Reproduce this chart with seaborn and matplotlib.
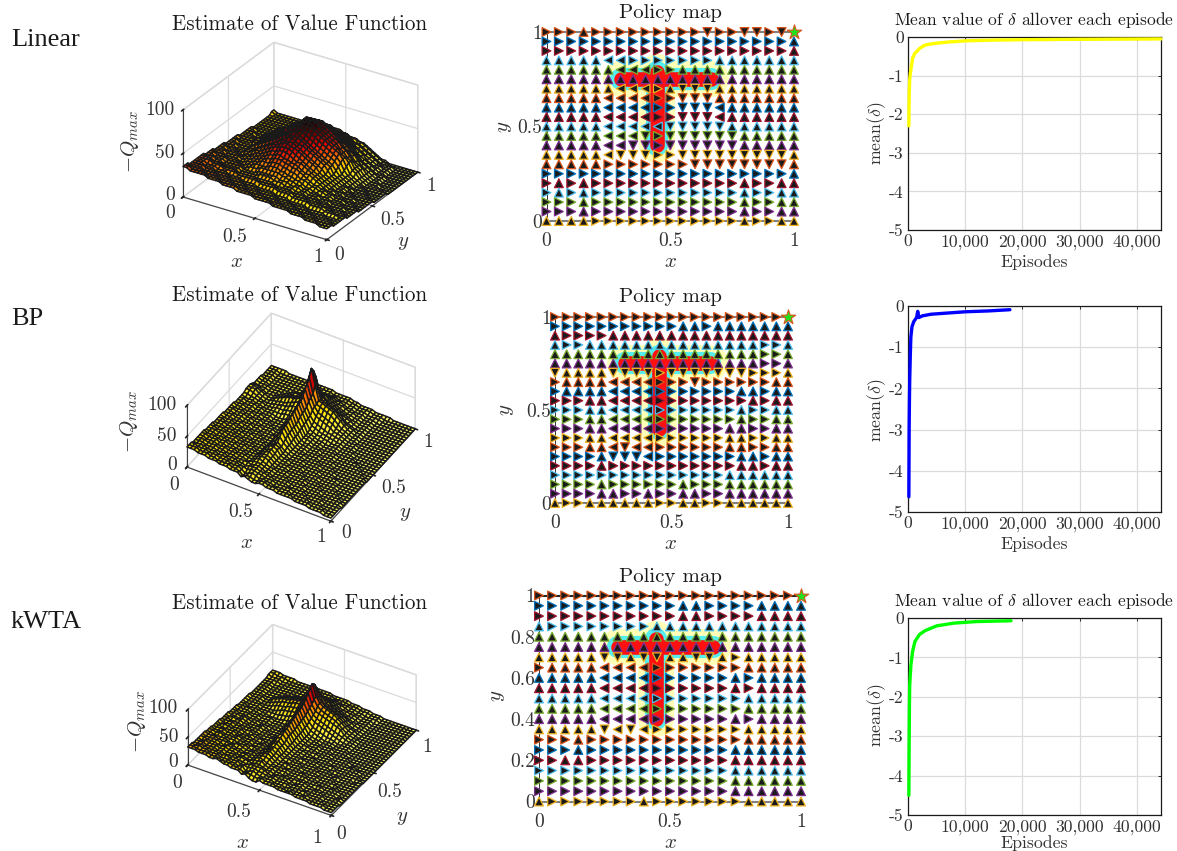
import numpy as np
import pandas as pd
import matplotlib
matplotlib.use("Agg")
from matplotlib import pyplot as plt
from matplotlib.colors import LinearSegmentedColormap
from mpl_toolkits.mplot3d import proj3d
import seaborn as sns

W, H = 1177, 851

# heights of the value surfaces, one base-36 digit per cell (unit 2.5), rows run from y=0 to y=1
linear_heights = [
    "eeddd ddccc cbbbb aaaaa 99999 88888 77776 66655 5",
    "eeddd dcccc bbbbb aaaa9 99998 88887 77766 66555 5",
    "edddd ccccb bbbaa aa999 99888 88777 77666 65555 5",
    "ddddc cccbb bbaaa a9999 88888 77777 66666 55555 4",
    "ddddc ccbbb baaaa 99998 88887 77776 66655 55554 4",
    "dddcc cbbbb aaaa9 99988 88877 77666 66555 55444 4",
    "dddcc cbbba aaa99 99888 88777 76666 65555 54444 4",
    "ddddc ccbbb baaaa aa999 99888 87777 76666 55554 4",
    "dddcc cbbbb aaaaa a9999 98888 87777 66666 55444 4",
    "dccbb baaaa 99999 99999 88888 77776 66655 54444 3",
    "cccbb aaaaa 99999 aaaa9 99888 77766 66555 44443 3",
    "ccbbb aaaaa 9999a aaaaa 99988 87766 65554 44433 3",
    "ccbbb aaaa9 9aaab bbbbb aa998 87766 65554 44433 3",
    "cbbba aaa99 aabbb bcccb baa99 87766 55544 44333 3",
    "bbbaa aa99a abbcc cdddc cbba9 98776 65544 43333 2",
    "bbbaa aa9aa bbccd deeed dccba 98776 65544 43332 2",
    "bbaaa a9aab bccde effee ddcba a9876 55444 33322 2",
    "bbaaa 99aab ccdef fgggf eddcb a9876 55443 33222 2",
    "baaa9 9aabc cdefg ghhhg fedcb a9876 54443 33222 2",
    "aaa99 9aabc defgg hiihh gfedc b9876 54433 32222 2",
    "aaa99 9aabc defgh iiiih gfedc ba876 54433 22222 2",
    "aa999 9abcd efghh ijjih hgfed cb976 54432 22221 1",
    "aa999 9abcd efghi jjjji hgfed cba76 54332 22211 1",
    "a9999 aabcd efghi jkkji hgfed cba86 54322 22111 1",
    "a9999 aabcd efghi jkkkj ihgfe dcb96 54322 21111 1",
    "99999 aabcd efghj kklkk jihgf edca7 54322 11111 1",
    "99998 9abcd efhij kllll kjihg fedb8 54321 11111 1",
    "99988 9abcd efhij klmml kjihg fecb9 65321 11110 0",
    "99988 9abcd efhij kmmmm ljihg fdca9 65321 11000 0",
    "99888 9abcd efhij kmmml kjihg fdca8 65321 11000 0",
    "99888 89abc defhi jllll kjihf ecb97 65321 10000 0",
    "88888 89abc defgh ikkkk jihge dca97 54321 10000 0",
    "88888 89aab cdefg hijji hgfed cb986 54321 10000 0",
    "88888 899aa bcdef ghiih gfedc ba875 43211 10000 0",
    "88888 8899a abcde fgggg fedcb a9765 43211 00000 0",
    "88888 88899 aabcd eeeff edcba 98764 32211 00000 0",
    "88888 88889 9aabc cdddd cbba9 87654 32211 00000 0",
    "88888 88888 899aa bbccb baa98 87654 32111 00000 0",
    "88888 88888 8899a aabba a9987 76543 21111 00000 0",
    "98888 88888 88889 999aa 99887 76543 21100 00000 0",
    "98888 88888 88888 88888 87776 65432 11000 00000 0",
]
bp_heights = [
    "dddcc cbbba aa999 78766 77666 55555 44443 33322 2",
    "dddcc cbbaa aa998 67766 77666 55554 44443 33322 2",
    "ddccc bbbaa a9998 67876 76655 55544 44433 33222 2",
    "ccccb bbaaa 99988 78877 66655 55544 44333 32222 2",
    "cccbb baaa9 99887 88877 66555 54444 43333 32222 2",
    "cccbb baa99 98888 78876 65555 54444 33333 22222 1",
    "ccbbb aaa99 98877 88876 65555 44444 33332 22222 1",
    "ccbbb aa999 88877 89876 65554 44443 33332 22221 1",
    "cbbba aa998 88777 89986 55554 44443 33322 22211 1",
    "bbbaa a9998 87777 89986 55544 44433 33222 22111 1",
    "bbbaa 99988 87776 89a86 55544 44333 32222 21111 1",
    "bbaaa 99988 77766 89a86 55444 43333 32222 21111 1",
    "baaa9 99887 77666 8aa96 55444 43333 22222 11111 1",
    "aaa99 98877 76666 78a96 54444 33333 22222 11111 1",
    "aaa99 88877 66665 78a86 54444 33332 22211 11111 1",
    "aa999 88777 66655 79c97 54443 33332 22211 11111 1",
    "a9998 87776 66555 8bea7 54443 33322 22111 11111 1",
    "a9988 87766 65555 8cfb7 54433 33222 21111 11111 0",
    "99988 77766 55555 8cfb8 54433 33222 21111 11110 0",
    "99888 77666 55544 9dgc8 54433 32222 11111 11100 0",
    "99888 77665 55544 9dhc8 54433 32222 11111 11000 0",
    "98887 76665 55444 9eic9 55433 22222 11111 10000 0",
    "98877 76655 54444 aeid9 55433 22221 11110 00000 0",
    "88877 66655 44444 afjea 55433 22221 11100 00000 0",
    "88777 66555 44444 agkfa 65443 32221 11100 00000 0",
    "88777 66555 44455 agkfb 76544 33221 11000 00000 0",
    "87776 65555 55666 bhmgb 87654 43321 11000 00000 0",
    "88776 65556 66778 cjpid a9876 44321 11000 00000 0",
    "99876 55566 77899 dlrje ba987 54321 10000 00000 0",
    "99976 55667 789ab dmuke dcba8 64321 10000 00000 0",
    "99876 55678 9aabc fpyof edcb9 75321 10000 00000 0",
    "88765 55667 899ab dmvle dcba8 64321 10000 00000 0",
    "76665 55566 7789a biqib ba987 43211 10000 00000 0",
    "76665 55556 66778 aeidb 98765 43211 10000 00000 0",
    "76655 55555 66667 9beb9 87654 32211 10000 00000 0",
    "76655 55555 55566 8a9a8 76543 32211 10000 00000 0",
    "66655 55555 55555 78887 65543 32211 10000 00000 0",
    "66655 55555 55555 66666 55433 22211 10000 00000 0",
    "66655 55555 55555 55555 44433 22211 11000 00000 0",
    "66655 55555 55555 55544 44433 22221 11000 00000 0",
    "66666 55555 55555 55544 44433 22221 11110 00000 0",
]
kwta_heights = [
    "dddcc cbbcb aa999 78655 76666 55555 44443 33322 2",
    "ddccc cbbba aa998 77766 76665 55454 44433 33322 2",
    "dcdcc bbbaa a9989 67876 66655 54544 43433 33222 2",
    "ccccb bbaab 99988 78877 66655 55444 44333 32222 2",
    "cccbb baa99 99887 88887 65655 54444 33333 32222 1",
    "cbcbb baa99 98988 78876 65555 54344 33333 22222 1",
    "ccbbb aaa99 88877 88976 65545 44444 33232 22212 1",
    "cbbbb a9a99 88877 89876 65554 44343 33332 22211 1",
    "cbbba aa998 87777 89986 55554 44443 33222 22211 1",
    "bbaaa a9899 87777 89a86 55444 44433 32222 12111 1",
    "bbaba 99988 87676 79a86 55544 43333 32222 21111 1",
    "baaa9 99988 77766 89a87 54444 43333 22222 11111 1",
    "aaaa9 98987 76666 79a96 55444 33333 22221 11111 1",
    "aa999 98877 76666 7ab96 54443 33332 22212 11111 1",
    "a9a99 88777 66565 7ab96 54444 33322 22111 11101 1",
    "a9998 88767 66655 8bc97 54433 33322 21211 11111 0",
    "99998 87776 65555 8cda7 54433 33222 22111 11110 0",
    "99888 77766 55555 8ceb7 54433 22222 11111 11100 0",
    "98988 77666 55545 8ceb7 54333 32222 11111 11100 0",
    "98878 76666 55444 9dfb8 54433 22221 11110 10000 0",
    "88878 76656 54444 9dgb8 54333 22221 11110 00000 0",
    "88777 66655 54444 9dgc8 54333 22211 11100 00000 0",
    "87777 66555 44445 9ehc8 54332 22211 11000 00000 0",
    "87776 66555 44444 aeid9 54332 22111 11000 00000 0",
    "77776 65555 44445 afid9 65432 22111 10000 00000 0",
    "77666 65544 44556 agjea 76543 32111 10000 00000 0",
    "76666 55555 56678 bhkfb 98765 43211 10000 00000 0",
    "76666 55556 78899 cimgc a9876 54321 10000 00000 0",
    "76665 55678 89aab djohd cba98 76321 10000 00000 0",
    "76665 56789 aabcc dlrjf dcba9 75321 10000 00000 0",
    "66665 5789a abccd enskg edcb9 75321 00000 00000 0",
    "66655 56789 aabbc dlqif dcba8 64321 00000 00000 0",
    "66655 55678 899ab bhmhc ba987 53211 00000 00000 0",
    "66655 55567 78899 aeifb a9876 43211 00000 00000 0",
    "66655 55555 66778 9bebb 87654 32211 00000 00000 0",
    "66655 55555 55666 8a9a8 76543 32111 00000 00000 0",
    "66655 55555 55555 78887 65443 32111 00000 00000 0",
    "66665 55555 55555 66666 55433 22111 00000 00000 0",
    "76665 55555 55555 55555 44433 22111 10000 00000 0",
    "77666 55555 55555 55544 44333 22211 10000 00000 0",
    "77766 66555 55555 55444 44333 22211 10000 00000 0",
]

# greedy action per grid cell, rows run from y=1 to y=0, S is the goal
linear_policy = [
    "RRRURRRRRRRRRDRRDDRDS",
    "RRRRRRRRRRRRRRRRRRRRU",
    "RRRRRRRRRRRRRRRRRRRRU",
    "UUUUULLRRRRRRRUUUUUUU",
    "UUUUUULLLRRUUUUUUUUUU",
    "UUUUUUUUUUUUUUUUUUUUU",
    "UUUUUULLLRUDDDUUUUUUU",
    "UUUUULLLLRRDDDUUUUUUU",
    "UUUUULLLLRRDDDLUUUUUU",
    "UUUUULLLLRRDDDLUUUUUU",
    "UUUUULLLLLDDDDDUUUUUU",
    "UUUUULLLDRDDDDDDUUUUU",
    "UUUUULLDDRDDDDDDUUUUU",
    "UUUUULDDDRRDDDDDDDDDU",
    "UUUUURRRRRRRDDDDDDDDU",
    "RRRRRRRRRRRRRRRRRRRRU",
    "RURURRRRRRRRRRRRURRUU",
    "RURURRRRRRRRRRRRURRUU",
    "RRRURRRRRRRRRRRRURRUU",
    "RRRURRRRRRRRRRRRURRUU",
    "UUUURRRRRRRRRRRRURRUU",
]
bp_policy = [
    "RRRRRRRRRRRRRRRRRRRRS",
    "RRRRRRRRRRRUURUUUUUUU",
    "URRRRUUUUUUUUUUUUUUUU",
    "URRUUUUUUUUUUUUUUURRU",
    "UUUUUUUUUUUUUUUUUURRU",
    "UUUUUUUUUUUUUUUUUURRU",
    "DUUUUDDDDRDDDDDDDRRRU",
    "RUUUULLLLRRRDRRRRRRUU",
    "RUUUULLLLRRRRRRRUURUU",
    "RRRUULLLLRRRRRRRRURUU",
    "RRRUULLLLRRRRRRRURRUU",
    "RRRUULLLLRRRRRRRURRUU",
    "RRRUULLLLRRRRRRUURRUU",
    "RRRUULLLLRRRRRRUURRUU",
    "RRRUULDLLRRRRRRUURRUU",
    "RRRRUDDDLRRRRRRRUURUU",
    "RRRRURRRRRRRRRRRUURUU",
    "RRRRRRRRRRRRRRRUUUUUU",
    "RRRRURRRRRRURRRUUUUUU",
    "RRRRUURRURRUURRUUUUUU",
    "URRUUUUUURRUURRUUUUUU",
]
kwta_policy = [
    "RRRRRRRRRRRRRRRRRRRRS",
    "RRRRRRRRRRRUURRRRUUUU",
    "RRRRRRRRRRRUURRRRUUUU",
    "URRRRRRRRUUUUUUUUUUUU",
    "UUUUUUUUUUUUUUUUUUUUU",
    "UUUUUUUUUUUUUUUUUUUUU",
    "UUUUUDDUDDUUDDURUUUUU",
    "RUUUULLLLRRRRRRRUUUUU",
    "UUUUULLLLRRRRRRURUUUU",
    "UUUUULLLLRRRRRRURUUUU",
    "UUUUULLLLRRRRRRRUUUUU",
    "UUUUULLLLRRRRRRRUUUUU",
    "UUUUULLLLRRRRRRURUUUU",
    "UUUUUDLDLRRRRRRRUUUUU",
    "RRRURRRRRRRRRRRRUUUUU",
    "RRRURRRRRRRRRRRUUUUUU",
    "RRUURRRRRRRRRRRUUUUUU",
    "RRRRRRRRRRRRRRRUUUUUU",
    "RRRRRRRRRRRRRRRUUUUUU",
    "RRRRRRRRRRRRRRRUUUUUU",
    "URRRRRRRURRRRRRRUUUUU",
]

# the T shaped obstacle
bar_x = [0.30, 0.665]
bar_y = [0.75, 0.75]
stem_x = [0.445, 0.445]
stem_y = [0.40, 0.79]

linear_ep = [150, 200, 250, 300, 400, 600, 800, 1200, 1500, 2000, 2500, 3000, 4000, 5000, 7000, 10000, 15000, 20000, 30000, 44200]
linear_delta = [-2.3, -1.5, -1.3, -1.1, -0.95, -0.75, -0.55, -0.42, -0.38, -0.3, -0.25, -0.21, -0.18, -0.16, -0.13, -0.1, -0.08, -0.07, -0.06, -0.05]
bp_ep = [150, 200, 250, 300, 400, 500, 700, 1000, 1500, 1700, 1900, 2500, 4000, 7000, 10000, 14000, 17800]
bp_delta = [-4.63, -3.0, -2.3, -1.8, -1.2, -0.75, -0.5, -0.38, -0.28, -0.13, -0.28, -0.24, -0.2, -0.17, -0.14, -0.12, -0.09]
kwta_ep = [150, 200, 250, 300, 500, 800, 1200, 2000, 3000, 5000, 8000, 12000, 18000]
kwta_delta = [-4.5, -3.2, -2.2, -1.7, -1.2, -0.85, -0.6, -0.42, -0.32, -0.2, -0.13, -0.09, -0.07]

ep_ticks = [0, 10000, 20000, 30000, 40000]
ep_labels = ["0", "10,000", "20,000", "30,000", "40,000"]
delta_ticks = [-5, -4, -3, -2, -1, 0]
delta_labels = ["-5", "-4", "-3", "-2", "-1", "0"]

row_colors = ["#d95319", "#0072bd", "#a2142f", "#4dbeee", "#77ac30", "#7e2f8e", "#edb120"]
arrows = {"R": ">", "U": "^", "L": "<", "D": "v"}
surface_cmap = LinearSegmentedColormap.from_list(
    "value", [(0, "#ffff70"), (0.35, "#ffe000"), (0.55, "#ff8000"), (0.75, "#e00000"), (1, "#200000")])

sns.set_theme(style="white", rc={"grid.color": "0.86", "grid.linewidth": 0.9})
plt.rcParams["font.family"] = ["cmr10"]
plt.rcParams["mathtext.fontset"] = "cm"
plt.rcParams["axes.unicode_minus"] = False
plt.rcParams["axes.formatter.use_mathtext"] = True
plt.rcParams["text.color"] = "0.15"

fig = plt.figure(figsize=(W / 100, H / 100), dpi=100)


def rect(l, t, r, b):
    return [l / W, 1 - b / H, (r - l) / W, (b - t) / H]


def label(x, y, s, size=14, rotation=0, ha="center", color="0.2", **kw):
    fig.text(x / W, 1 - y / H, s, fontsize=size, rotation=rotation, ha=ha, va="center", color=color, **kw)


def project(ax, x, y, z):
    xp, yp, _ = proj3d.proj_transform(x, y, z, ax.get_proj())
    px, py = ax.transData.transform((xp, yp))
    return np.array([px, H - py])


def fit_box(ax, aspect, origin, x_end):
    # scale and shift the 3d axes until the box corners land where they should
    zoom = 1.0
    for _ in range(3):
        fig.canvas.draw()
        p0 = project(ax, 0, 0, 0)
        p1 = project(ax, 1, 0, 0)
        zoom *= np.linalg.norm(np.subtract(x_end, origin)) / np.linalg.norm(p1 - p0)
        ax.set_box_aspect(aspect, zoom=zoom)
        fig.canvas.draw()
        shift = np.subtract(origin, project(ax, 0, 0, 0))
        pos = ax.get_position(original=True)
        ax.set_position([pos.x0 + shift[0] / W, pos.y0 - shift[1] / H, pos.width, pos.height])


def draw_surface(rows, vmax, az, el, ratio, origin, x_end):
    l, t = origin[0] - 30, origin[1] - 200
    ax = fig.add_axes(rect(l, t, l + 300, t + 300), projection="3d", proj_type="ortho")
    ax.patch.set_visible(False)
    heights = np.array([[int(c, 36) * 2.5 for c in (r.replace(" ", "") + r[-1] * 41)[:41]] for r in rows])
    gx, gy = np.meshgrid(np.linspace(0, 1, 41), np.linspace(0, 1, 41))
    ax.plot_surface(gx, gy, heights, cmap=surface_cmap, vmin=0, vmax=vmax, edgecolor="k", linewidth=1.1,
                    rstride=1, cstride=1, shade=False, antialiased=True)
    ax.view_init(elev=el, azim=az)
    ax.set_xlim(0, 1, view_margin=0)
    ax.set_ylim(0, 1, view_margin=0)
    ax.set_zlim(0, 100, view_margin=0)
    ax.set_xticks([0, 0.5, 1], ["", "", ""])
    ax.set_yticks([0, 0.5, 1], ["", "", ""])
    ax.set_zticks([0, 50, 100], ["", "", ""])
    ax.zaxis.set_ticks_position("lower")
    ax.grid(True)
    for axis in (ax.xaxis, ax.yaxis, ax.zaxis):
        axis.set_pane_color((1, 1, 1, 1))
        axis.pane.set_edgecolor("0.86")
        axis.line.set_color("0.25")
        axis.line.set_linewidth(0.8)
    fit_box(ax, (1, 1, ratio), origin, x_end)
    return ax


def surface_text(title, z_ticks, x_ticks, y_ticks, q, x, y):
    label(title[0], title[1], "Estimate of Value Function", size=15.1, color="0.1")
    for text, (tx, ty) in zip(["100", "50", "0"], z_ticks):
        label(tx, ty, text, ha="right")
    for text, pos in zip(["0", "0.5", "1"], x_ticks):
        label(pos[0], pos[1], text)
    for text, pos in zip(["0", "0.5", "1"], y_ticks):
        label(pos[0], pos[1], text)
    label(q[0], q[1], "$-Q_{max}$", rotation=90, size=15)
    label(x[0], x[1], "$x$", size=15)
    label(y[0], y[1], "$y$", size=15)


def draw_policy(actions, box, ticks, tick_text, top_color):
    ax = fig.add_axes(rect(*box))
    for color, width in [("#ffffb8", 26), ("#55eeee", 16), ("#ff1010", 10.5)]:
        ax.plot(bar_x, bar_y, color=color, lw=width, solid_capstyle="round")
        ax.plot(stem_x, stem_y, color=color, lw=width, solid_capstyle="round")
    cells = pd.DataFrame([
        {"x": col / 20, "y": 1 - row / 20, "action": act, "row": row}
        for row, line in enumerate(actions) for col, act in enumerate(line) if act != "S"
    ])
    for row, part in cells.groupby("row"):
        sns.scatterplot(data=part, x="x", y="y", style="action", markers=arrows, color="k",
                        edgecolor=row_colors[row % 7], linewidth=0.9, s=40, legend=False,
                        clip_on=False, zorder=4, ax=ax)
    ax.scatter([1], [1], marker="*", s=120, color="#20e020", edgecolor="#d95319", linewidth=0.8,
               clip_on=False, zorder=5)
    ax.set_xlim(0, 1)
    ax.set_ylim(0, 1)
    ax.set_xlabel("")
    ax.set_ylabel("")
    ax.set_xticks([0, 0.5, 1], ["0", "0.5", "1"])
    ax.set_yticks(ticks, tick_text)
    ax.tick_params(axis="x", length=0, pad=8, labelsize=14, labelcolor="0.2")
    ax.tick_params(axis="y", length=0, pad=3, labelsize=14, labelcolor="0.2")
    ax.spines["right"].set_visible(False)
    ax.spines["left"].set_linewidth(0.7)
    ax.spines["left"].set_color("0.2")
    ax.spines["top"].set_color(top_color)
    ax.spines["top"].set_linewidth(1.5)
    ax.spines["bottom"].set_color("0.5")
    ax.spines["bottom"].set_linewidth(1.5)


def draw_delta(ep, delta, color, box):
    ax = fig.add_axes(rect(*box))
    sns.lineplot(x=ep, y=delta, color=color, linewidth=2.4, errorbar=None, clip_on=False, zorder=3, ax=ax)
    ax.set_xlim(0, 44200)
    ax.set_ylim(-5, 0)
    ax.set_xticks(ep_ticks, ep_labels)
    ax.set_yticks(delta_ticks, delta_labels)
    ax.grid(True)
    ax.tick_params(direction="in", top=True, right=True, length=2.5, width=0.7, color="0.15",
                   labelsize=12.7, labelcolor="0.2", pad=3)
    for spine in ax.spines.values():
        spine.set_linewidth(0.9)
        spine.set_color("0.1")


# first column
draw_surface(linear_heights, 54, -57.7, 28, 0.58, (183, 197), (327, 239))
draw_surface(bp_heights, 88, -59.6, 39.9, 0.481, (187, 467), (332, 518))
draw_surface(kwta_heights, 72, -59.4, 36.4, 0.412, (187.7, 765), (330, 819))
surface_text((300, 24), [(175, 110), (175, 153), (175, 195)], [(170, 213), (235, 237), (318, 257)],
             [(339, 255), (393, 220), (431, 186)], (130, 142), (237, 262), (403, 243))
surface_text((300, 295), [(177, 405), (177, 436), (177, 465)], [(174, 485), (241, 512), (321, 537)],
             [(346, 533), (394, 488), (428, 442)], (129, 422), (247, 543), (405, 514))
surface_text((300, 603), [(178, 708), (178, 737), (178, 762)], [(177, 783), (239, 812), (317, 838)],
             [(341, 834), (390, 792), (427, 747)], (137, 722), (243, 843), (402, 818))

# second column
draw_policy(linear_policy, (546.5, 32, 794, 221), [0, 0.5, 1], ["0", "0.5", "1"], "0.5")
draw_policy(bp_policy, (555, 317, 788, 503), [0, 0.5, 1], ["0", "0.5", "1"], "0.5")
draw_policy(kwta_policy, (539, 595.5, 801, 801.5), [0, 0.2, 0.4, 0.6, 0.8, 1],
            ["0", "0.2", "0.4", "0.6", "0.8", "1"], "0.15")
for title_y, xlab_y, ylab_x, ylab_y in [(13, 262, 505, 127), (297, 544, 507, 410), (577, 843, 498, 696)]:
    label(670, title_y, "Policy map", size=15, color="0.1")
    label(670, xlab_y, "$x$", size=15)
    label(ylab_x, ylab_y, "$y$", size=15, rotation=90)

# third column
draw_delta(linear_ep, linear_delta, "#ffff00", (908, 37, 1161, 230))
draw_delta(bp_ep, bp_delta, "#0000ff", (908, 306, 1161, 512))
draw_delta(kwta_ep, kwta_delta, "#00ff00", (908, 618, 1161, 815))
for y in (20, 601):
    label(1034, y, r"Mean value of $\delta$ allover each episode", size=12.55, color="0.1")
for y_ep in (262, 544, 843):
    label(1034, y_ep, "Episodes", size=12.8)
for x_m, y_m in [(877, 133), (877, 410), (877, 715)]:
    label(x_m, y_m, r"mean$(\delta)$", size=12.8, rotation=90)

# row names
for y, name in [(40, "Linear"), (319, "BP"), (622, "kWTA")]:
    fig.text(11 / W, 1 - y / H, name, family="Liberation Serif", fontsize=19, color="k", va="center")

fig.savefig("out.png", dpi=100)
